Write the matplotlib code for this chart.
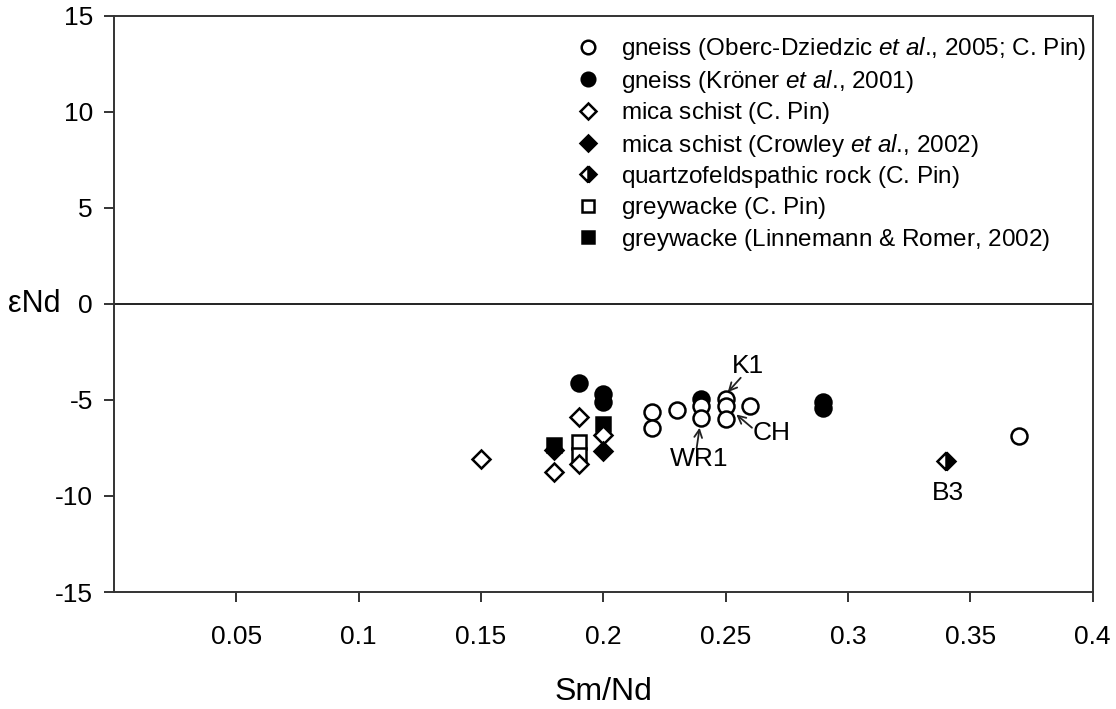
import matplotlib
matplotlib.use("Agg")
import matplotlib.pyplot as plt

plt.rcParams['font.family'] = ['Liberation Sans', 'DejaVu Sans']
plt.rcParams['mathtext.fontset'] = 'custom'
plt.rcParams['mathtext.rm'] = 'Liberation Sans'
plt.rcParams['mathtext.it'] = 'Liberation Sans:italic'
plt.rcParams['axes.unicode_minus'] = False

# ---- data (Sm/Nd, eNd) ----
gneiss_open_x = [0.22, 0.22, 0.23, 0.24, 0.24, 0.25, 0.25, 0.25, 0.26, 0.37]
gneiss_open_y = [-5.65, -6.45, -5.55, -5.3, -5.95, -4.95, -5.3, -6.0, -5.3, -6.9]

gneiss_fill_x = [0.19, 0.20, 0.20, 0.24, 0.29, 0.29]
gneiss_fill_y = [-4.1, -4.7, -5.1, -4.95, -5.1, -5.4]

schist_open_x = [0.15, 0.18, 0.19, 0.19, 0.20]
schist_open_y = [-8.1, -8.75, -5.9, -8.35, -6.85]

schist_fill_x = [0.18, 0.20]
schist_fill_y = [-7.6, -7.65]

quartz_x = [0.34]
quartz_y = [-8.2]

grey_open_x = [0.19, 0.19]
grey_open_y = [-7.2, -7.85]

grey_fill_x = [0.18, 0.20]
grey_fill_y = [-7.35, -6.25]

labels = [
    r'gneiss (Oberc-Dziedzic $\mathit{et\ al}$., 2005; C. Pin)',
    r'gneiss (Kröner $\mathit{et\ al}$., 2001)',
    r'mica schist (C. Pin$\mathrm{)}$',
    r'mica schist (Crowley $\mathit{et\ al}$., 2002)',
    r'quartzofeldspathic rock (C. Pin$\mathrm{)}$',
    r'greywacke (C. Pin$\mathrm{)}$',
    r'greywacke (Linnemann & Romer, 2002$\mathrm{)}$',
]

annot_text = ['K1', 'CH', 'WR1', 'B3']
annot_xy = [(0.259, -3.22), (0.269, -6.7), (0.2394, -8.1), (0.3407, -9.87)]

x_ticks = [0.05, 0.1, 0.15, 0.2, 0.25, 0.3, 0.35, 0.4]
x_ticklabels = ['0.05', '0.1', '0.15', '0.2', '0.25', '0.3', '0.35', '0.4']
y_ticks = [-15, -10, -5, 0, 5, 10, 15]

fig = plt.figure(figsize=(11.16, 7.09), dpi=100)
ax = fig.add_axes([0.102, 0.165, 0.877, 0.813])

ax.axhline(0, color='#222222', lw=1.4, zorder=1)

mew = 1.8
h_gf, = ax.plot(gneiss_fill_x, gneiss_fill_y, 'o', ms=11.5, mfc='black', mec='black', mew=mew, ls='none', zorder=3)
h_go, = ax.plot(gneiss_open_x, gneiss_open_y, 'o', ms=11.5, mfc='white', mec='black', mew=mew, ls='none', zorder=4)
h_so_o, = ax.plot(grey_open_x, grey_open_y, 's', ms=10, mfc='white', mec='black', mew=mew, ls='none', zorder=3)
h_sf, = ax.plot(grey_fill_x, grey_fill_y, 's', ms=10, mfc='black', mec='black', mew=mew, ls='none', zorder=3)
h_do, = ax.plot(schist_open_x, schist_open_y, 'D', ms=9, mfc='white', mec='black', mew=mew, ls='none', zorder=4)
h_df, = ax.plot(schist_fill_x, schist_fill_y, 'D', ms=9, mfc='black', mec='black', mew=mew, ls='none', zorder=5)
h_q, = ax.plot(quartz_x, quartz_y, 'D', ms=9, fillstyle='right', mfc='black', markerfacecoloralt='white',
               mec='black', mew=mew, ls='none', zorder=5)

fs = 19
# annotations
arrow_kw = dict(arrowstyle='->', color='#222222', lw=1.3, mutation_scale=14, shrinkA=0, shrinkB=0)
ax.text(*annot_xy[0], annot_text[0], fontsize=fs, ha='center', va='center')
ax.annotate('', xy=(0.2509, -4.6), xytext=(0.2562, -3.85), arrowprops=arrow_kw)
ax.text(*annot_xy[1], annot_text[1], fontsize=fs, ha='center', va='center')
ax.annotate('', xy=(0.2544, -5.76), xytext=(0.2608, -6.45), arrowprops=arrow_kw)
ax.text(*annot_xy[2], annot_text[2], fontsize=fs, ha='center', va='center')
ax.annotate('', xy=(0.2394, -6.45), xytext=(0.2382, -7.5), arrowprops=arrow_kw)
ax.text(*annot_xy[3], annot_text[3], fontsize=fs, ha='center', va='center')

ax.set_xlim(0, 0.4)
ax.set_ylim(-15, 15)
ax.set_xticks(x_ticks)
ax.set_xticklabels(x_ticklabels)
ax.set_yticks(y_ticks)

for s in ax.spines.values():
    s.set_color('#333333')
    s.set_linewidth(1.4)
ax.tick_params(axis='both', direction='out', length=7, width=1.4, color='#333333', labelsize=fs)
ax.tick_params(axis='x', pad=17)
ax.tick_params(axis='y', pad=8)

ax.set_xlabel('Sm/Nd', fontsize=23, labelpad=20)
ax.text(-0.081, 0, 'εNd', transform=ax.get_yaxis_transform(), fontsize=22,
        ha='center', va='center')

handles = [h_go, h_gf, h_do, h_df, h_q, h_so_o, h_sf]
leg = ax.legend(handles, labels, loc='upper right', bbox_to_anchor=(1.011, 0.995), frameon=False,
                fontsize=17.5, handlelength=0.8, handletextpad=0.95, labelspacing=0.22,
                borderaxespad=0.3, markerscale=0.85)

fig.savefig('out.png', dpi=100)
